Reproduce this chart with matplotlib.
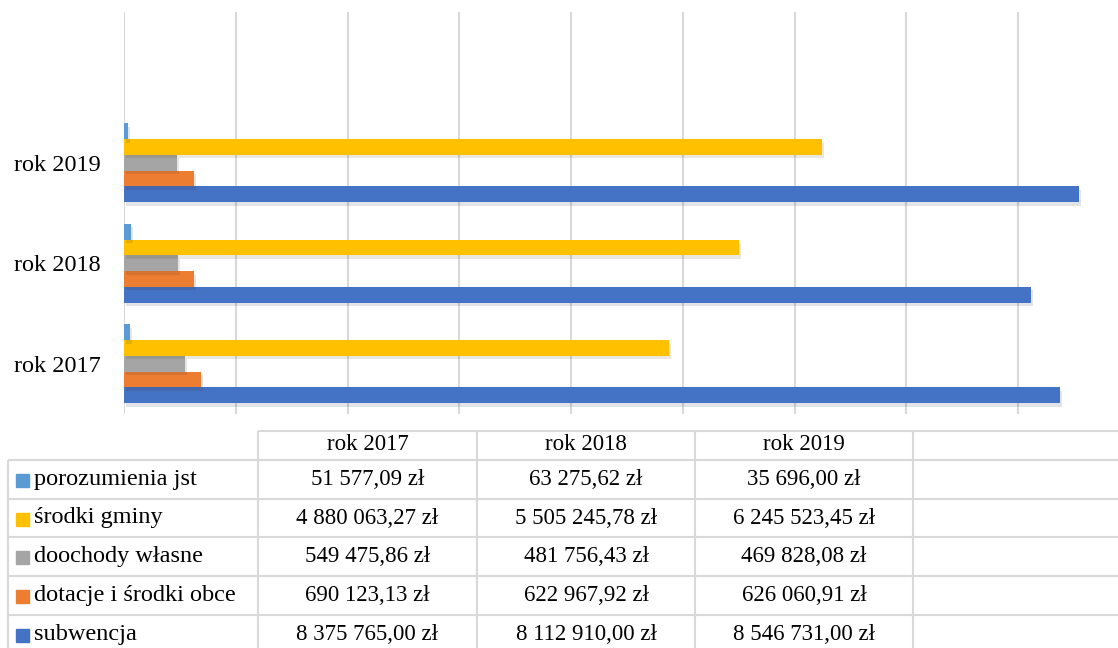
import numpy as np
import matplotlib
matplotlib.use("Agg")
import matplotlib.pyplot as plt
import matplotlib.patheffects as pe

plt.rcParams['font.family'] = ['Liberation Serif', 'DejaVu Serif']

# dane
lata = ['rok 2017', 'rok 2018', 'rok 2019', '']
serie = ['porozumienia jst', 'środki gminy', 'doochody własne',
         'dotacje i środki obce', 'subwencja']
porozumienia = [51577.09, 63275.62, 35696.00]
srodki_gminy = [4880063.27, 5505245.78, 6245523.45]
dochody_wlasne = [549475.86, 481756.43, 469828.08]
dotacje = [690123.13, 622967.92, 626060.91]
subwencja = [8375765.00, 8112910.00, 8546731.00]
kolory = ['#5B9BD5', '#FFC000', '#A5A5A5', '#ED7D31', '#4472C4']

wartosci = [porozumienia, srodki_gminy, dochody_wlasne, dotacje, subwencja]


def zl(v):
    s = f"{v:,.2f}".replace(',', ' ').replace('.', ',')
    return s + ' zł'


W, H = 1118, 648
fig = plt.figure(figsize=(W / 100, H / 100), dpi=100)

# wykres slupkowy (os rozciaga sie poza prawa krawedz - obraz przyciety)
x0, x1 = 124, 124 + 9 * 111.75
ytop, ybot = 12, 414
ax = fig.add_axes([x0 / W, (H - ybot) / H, (x1 - x0) / W, (ybot - ytop) / H])
ax.set_xlim(0, 9e6)
ax.set_ylim(-0.5, 3.5)

h = 0.157
pos = np.arange(3)
# od dolu: subwencja ... porozumienia
for i, (nazwa, vals, c) in enumerate(zip(serie[::-1], wartosci[::-1], kolory[::-1])):
    off = -2.5 * h + h * (i + 0.5)
    bars = ax.barh(pos + off, vals, height=h, color=c, zorder=3)
    for b in bars:
        b.set_path_effects([pe.SimplePatchShadow(offset=(1.5, -2.5), alpha=0.12),
                            pe.Normal()])

ax.set_yticks(range(4))
ax.set_yticklabels(lata, fontsize=17.5)
ax.tick_params(axis='y', length=0, pad=17)
ax.set_xticks(np.arange(0, 9e6, 1e6))
ax.tick_params(axis='x', length=0, labelbottom=False)
ax.grid(axis='x', color='#D9D9D9', linewidth=1.5, zorder=0)
for s in ax.spines.values():
    s.set_visible(False)

# tabela danych
tb = fig.add_axes([0, 0, 1, 1], zorder=-1)
tb.set_xlim(0, W)
tb.set_ylim(H, 0)
tb.axis('off')
lc = '#D9D9D9'
cols = [258, 477, 695, 913, 1125]
rows = [431, 460, 499, 537, 576, 615, 654]

tb.hlines(rows[0], cols[0], cols[-1], color=lc, lw=1.5)
tb.hlines(rows[1:], 8, cols[-1], color=lc, lw=1.5)
tb.vlines(8, rows[1], rows[-1], color=lc, lw=1.5)
tb.vlines(cols, rows[0], rows[-1], color=lc, lw=1.5)

for j, rok in enumerate(lata):
    cx = (cols[j] + cols[j + 1]) / 2
    tb.text(cx, (rows[0] + rows[1]) / 2 - 1, rok, ha='center', va='center', fontsize=16.5)

for r, (nazwa, vals, c) in enumerate(zip(serie, wartosci, kolory)):
    cy = (rows[r + 1] + rows[r + 2]) / 2
    tb.add_patch(plt.Rectangle((16, cy - 5.5), 13, 13, color=c))
    tb.text(34, cy, nazwa, ha='left', va='center', fontsize=17.5)
    for j, v in enumerate(vals):
        cx = (cols[j] + cols[j + 1]) / 2
        tb.text(cx, cy, zl(v), ha='center', va='center', fontsize=16.5)

fig.savefig('out.png', dpi=100, facecolor='white')
